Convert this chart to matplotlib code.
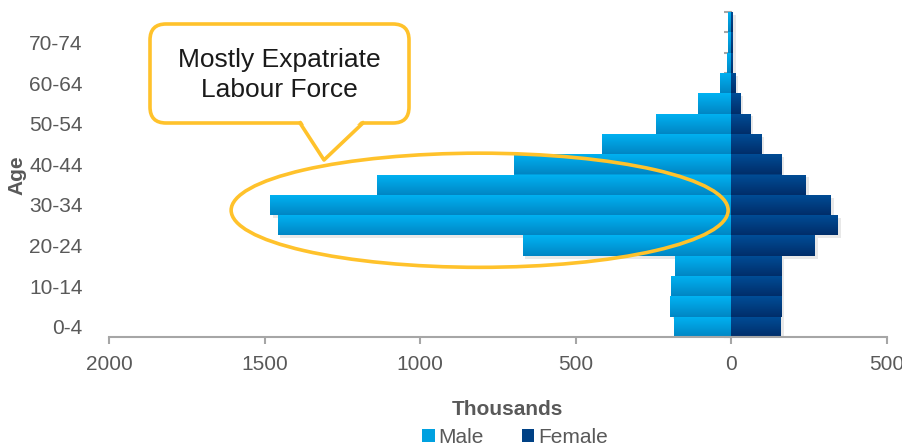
import numpy as np
import matplotlib
matplotlib.use("Agg")
import matplotlib.pyplot as plt
import matplotlib.patheffects as pe
from matplotlib.patches import Ellipse, FancyBboxPatch, Polygon, Patch
from matplotlib.lines import Line2D
from matplotlib.colors import LinearSegmentedColormap
from matplotlib.transforms import Affine2D

plt.rcParams['font.family'] = ['Liberation Sans', 'DejaVu Sans']

# population by age group, thousands
ages = ['0-4', '5-9', '10-14', '15-19', '20-24', '25-29', '30-34', '35-39',
        '40-44', '45-49', '50-54', '55-59', '60-64', '65-69', '70-74', '75+']
male = [185, 198, 195, 181, 671, 1458, 1482, 1140, 700, 415, 243, 108, 37, 15, 10, 10]
female = [159, 161, 161, 161, 268, 342, 321, 240, 161, 97, 62, 29, 13, 5, 5, 5]
xticks = [-2000, -1500, -1000, -500, 0, 500]
xtick_labels = ['2000', '1500', '1000', '500', '0', '500']

W, H = 903, 448
GREY = '#A6A6A6'
TXT = '#595959'
YEL = '#FFC22B'

fig = plt.figure(figsize=(W / 100, H / 100), dpi=100)
ax = fig.add_axes([109 / W, 1 - 337 / H, 778 / W, 325 / H])

y = np.arange(len(ages))
male_cm = LinearSegmentedColormap.from_list('m', ['#00B3F3', '#0086C4'])
fem_cm = LinearSegmentedColormap.from_list('f', ['#004D97', '#002E6A'])
shadow = [pe.SimplePatchShadow(offset=(2, -2), shadow_rgbFace='#808080', alpha=0.18),
          pe.Normal()]

grad = np.linspace(0, 1, 64).reshape(-1, 1)
for vals, sign, cm in [(male, -1, male_cm), (female, 1, fem_cm)]:
    bars = ax.barh(y, sign * np.array(vals), height=1.0, color=cm(0.5),
                   linewidth=0, path_effects=shadow, zorder=2)
    for b in bars:
        x0, y0 = b.get_x(), b.get_y()
        im = ax.imshow(grad, cmap=cm, aspect='auto', zorder=2.1,
                       extent=(x0, x0 + b.get_width(), y0, y0 + b.get_height()))
        im.set_clip_path(b)

ax.set_xlim(-2000, 500)
ax.set_ylim(-0.5, len(ages) - 0.5)

for s in ['top', 'right', 'left']:
    ax.spines[s].set_visible(False)
ax.spines['bottom'].set_color(GREY)
ax.spines['bottom'].set_linewidth(1.5)
ax.set_xticks(xticks, xtick_labels)
ax.tick_params(axis='x', length=5, width=1.5, color=GREY, labelsize=15,
               labelcolor=TXT, pad=8)
ax.set_yticks(y[::2], ages[::2])
ax.tick_params(axis='y', length=0, pad=19, labelsize=15, labelcolor=TXT)

# zero axis with category ticks
sec = ax.secondary_yaxis(0, transform=ax.transData)
sec.set_yticks(np.arange(-0.5, len(ages)), labels=[])
sec.tick_params(length=5, width=1.5, color=GREY)
for s in sec.spines.values():
    s.set_color(GREY)
    s.set_linewidth(1.5)

# highlight ellipse
ax.add_patch(Ellipse((-809, 5.74), 1597, 5.62, fill=False, ec=YEL, lw=2.6, zorder=5))

# callout box (pixel coords, y down)
tr = Affine2D().scale(1 / W, -1 / H).translate(0, 1) + fig.transFigure
fig.add_artist(FancyBboxPatch((150, 24), 259, 99, boxstyle='round,pad=0,rounding_size=16',
                              transform=tr, fc='white', ec=YEL, lw=2.6))
fig.add_artist(Polygon([(301, 120), (324, 158), (362, 120)], transform=tr,
                       fc='white', ec='none'))
fig.add_artist(Line2D([300, 324, 363], [123, 160, 123], transform=tr,
                      color=YEL, lw=2.6, solid_joinstyle='round'))
fig.text(279 / W, 1 - 75 / H, 'Mostly Expatriate\nLabour Force', ha='center',
         va='center', fontsize=19, color='#1A1A1A', linespacing=1.3)

fig.text(17 / W, 1 - 175 / H, 'Age', rotation=90, fontweight='bold', fontsize=15,
         color=TXT, ha='center', va='center')
fig.text(507 / W, 1 - 409 / H, 'Thousands', fontweight='bold', fontsize=15,
         color=TXT, ha='center', va='center')

handles = [Patch(fc=male_cm(0.4)), Patch(fc=fem_cm(0.4))]
leg = fig.legend(handles, ['Male', 'Female'], loc='center',
                 bbox_to_anchor=(515 / W, 1 - 437 / H), ncol=2, frameon=False,
                 fontsize=15, handlelength=0.6, handleheight=0.6,
                 handletextpad=0.2, columnspacing=1.8, borderpad=0)
for t in leg.get_texts():
    t.set_color(TXT)

fig.savefig('out.png', dpi=100)
